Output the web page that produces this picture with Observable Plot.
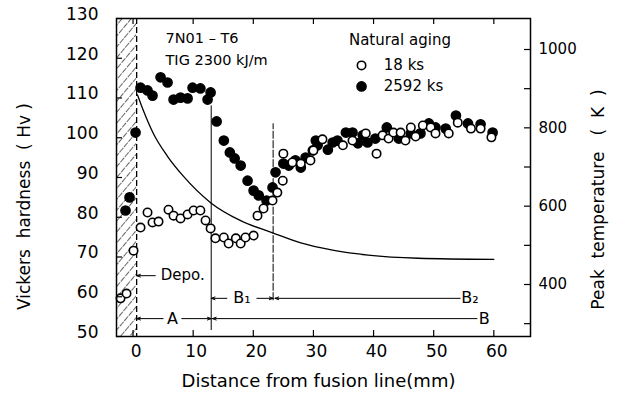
<!DOCTYPE html>
<html><head><meta charset="utf-8">
<script src="https://cdn.jsdelivr.net/npm/d3@7"></script>
<script src="https://cdn.jsdelivr.net/npm/@observablehq/plot@0.6"></script>
<style>
html,body{margin:0;padding:0;background:#fff;}
#chart svg{display:block;}
</style>
</head><body><div id="chart"></div>
<script>
// ---- data ----
const xTicks = [0, 10, 20, 30, 40, 50, 60];
const yTicks = [50, 60, 70, 80, 90, 100, 110, 120, 130];
const tempMajor = [400, 600, 800, 1000];
const tempMinor = [300, 500, 700, 900];

// Natural aging 2592 ks (filled)
const aged2592X = [-1.25,-0.58,0.42,1.25,2.41,3.24,4.58,5.74,6.74,7.9,9.07,9.9,11.2,12.4,12.9,13.9,15.1,16.1,16.9,17.9,19.05,20.05,20.9,22.2,23.2,23.7,25.0,25.9,27.0,27.9,28.7,29.9,30.4,30.7,32.4,33.2,34.0,35.4,36.5,37.4,38.2,39.0,40.3,42.2,44.2,46.2,47.8,49.2,50.3,52.0,53.7,55.7,57.8,59.8];
const aged2592Hv = [81.7,85.0,101.3,112.6,111.9,110.6,115.2,113.9,109.6,110.1,109.9,112.6,112.4,109.6,111.4,104.1,99.3,96.3,94.8,93.0,89.2,86.7,85.5,84.2,87.5,91.3,93.5,93.0,94.3,92.5,95.0,96.8,99.3,98.1,97.0,98.8,99.3,101.3,101.3,98.6,100.6,98.8,99.8,102.6,99.8,101.1,101.1,103.6,102.6,102.3,105.6,103.6,103.4,101.3];

// Natural aging 18 ks (open)
const aged18X = [-2.08,-1.08,0.08,1.25,2.41,3.24,4.24,5.9,6.74,7.9,9.07,10.07,11.2,12.06,12.9,13.7,15.1,15.9,17.1,17.9,18.7,20.05,20.7,21.7,23.2,24.0,24.9,25.0,26.5,27.9,29.5,30.0,31.5,34.9,36.5,38.7,40.5,41.5,42.5,43.3,44.5,45.3,46.2,47.0,48.2,49.5,50.3,52.5,54.0,56.2,57.8,59.6];
const aged18Hv = [59.6,60.8,71.6,77.4,81.2,78.7,78.9,81.9,80.4,79.7,80.7,81.7,81.7,79.2,77.2,74.7,74.9,73.4,74.7,73.4,74.9,75.4,80.4,82.2,84.2,86.2,89.2,96.0,93.8,93.5,94.3,96.8,99.6,98.1,99.3,101.1,96.0,100.6,99.8,101.3,101.3,99.3,102.6,100.3,103.1,102.6,101.1,101.1,103.8,102.3,102.3,100.1];

// Peak temperature curve (K)
const curveX = [0.75,1.75,3.4,5.7,8.4,12.9,17.9,23.2,27.9,33.4,39.1,47.4,60];
const curveT = [884,843,785,728,676,609,563,532,506,487,475,467,464];

// zone boundaries (mm): fusion line, A/B1, B1/B2
const zoneBounds = [0.6, 13, 23.3];

// ---- layout ----
const W = 619, H = 401, mL = 116, mR = 89, mT = 18, mB = 65;
const plotW = W - mL - mR, plotH = H - mT - mB;
const xDomain = [-2.75, 66.1];
const toHv = t => 63.08 + (t - 400) * (122.2 - 63.08) / 600;
const fromHv = h => 400 + (h - 63.08) * 600 / (122.2 - 63.08);
const font = "'DejaVu Sans', sans-serif";
const sp = "\u00a0";

const filled = aged2592X.map((x, i) => ({x, y: aged2592Hv[i]}));
const open = aged18X.map((x, i) => ({x, y: aged18Hv[i]}));
const curve = curveX.map((x, i) => ({x, y: toHv(curveT[i])}));
const [fx, bA, bB] = zoneBounds;

const arrowOpts = {stroke: "black", strokeWidth: 1, headLength: 6, headAngle: 40};

const chart = Plot.plot({
  width: W, height: H,
  marginLeft: mL, marginRight: mR, marginTop: mT, marginBottom: mB,
  style: {fontFamily: font, background: "white", color: "black"},
  x: {domain: xDomain},
  y: {domain: [50, 130]},
  marks: [
    Plot.rect([{}], {x1: xDomain[0], x2: fx, y1: 50, y2: 130, fill: "url(#hatch)"}),
    Plot.ruleX([fx], {stroke: "black", strokeWidth: 1.3, strokeDasharray: "6,3"}),
    Plot.ruleX([bA], {y1: 51.5, y2: 108, stroke: "black", strokeWidth: 1}),
    Plot.ruleX([bB], {y1: 59, y2: 103.5, stroke: "black", strokeWidth: 1, strokeDasharray: "8,1.5"}),
    Plot.line(curve, {x: "x", y: "y", curve: "monotone-x", stroke: "black", strokeWidth: 1.3}),

    // region annotations
    Plot.arrow([{}], {x1: 3.7, x2: fx, y1: 65.3, y2: 65.3, ...arrowOpts}),
    Plot.text(["Depo."], {x: 4.6, y: 65.3, textAnchor: "start", fontSize: 15}),
    Plot.arrow([{}], {x1: 5.0, x2: fx, y1: 54.5, y2: 54.5, ...arrowOpts}),
    Plot.arrow([{}], {x1: 8.1, x2: bA, y1: 54.5, y2: 54.5, ...arrowOpts}),
    Plot.text(["A"], {x: 6.55, y: 54.5, fontSize: 16}),
    Plot.arrow([{}], {x1: 15.6, x2: bA, y1: 59.6, y2: 59.6, ...arrowOpts}),
    Plot.arrow([{}], {x1: 20.6, x2: bB, y1: 59.6, y2: 59.6, ...arrowOpts}),
    Plot.text(["B\u2081"], {x: 18.1, y: 59.6, fontSize: 16}),
    Plot.arrow([{}], {x1: 54.4, x2: bB + 0.3, y1: 59.6, y2: 59.6, ...arrowOpts}),
    Plot.text(["B\u2082"], {x: 54.6, y: 59.6, textAnchor: "start", fontSize: 16}),
    Plot.arrow([{}], {x1: 57.2, x2: bA + 0.2, y1: 54.5, y2: 54.5, ...arrowOpts}),
    Plot.text(["B"], {x: 57.5, y: 54.5, textAnchor: "start", fontSize: 16}),

    // data
    Plot.dot(filled, {x: "x", y: "y", r: 4.6, fill: "black", stroke: "black"}),
    Plot.dot(open, {x: "x", y: "y", r: 4.2, fill: "white", stroke: "black", strokeWidth: 1.6}),

    // texts
    Plot.text(["7N01 \u2013 T6"], {x: 5.4, y: 125, textAnchor: "start", fontSize: 14.5}),
    Plot.text(["TIG 2300 kJ/m"], {x: 5.4, y: 119.4, textAnchor: "start", fontSize: 14.5}),
    Plot.text(["Natural aging"], {x: 35.9, y: 124.5, textAnchor: "start", fontSize: 15}),
    Plot.dot([{}], {x: 38.0, y: 118.2, r: 4.2, fill: "white", stroke: "black", strokeWidth: 1.6}),
    Plot.text(["18 ks"], {x: 41.7, y: 118.2, textAnchor: "start", fontSize: 15}),
    Plot.dot([{}], {x: 38.0, y: 112.9, r: 4.6, fill: "black", stroke: "black"}),
    Plot.text(["2592 ks"], {x: 41.7, y: 112.9, textAnchor: "start", fontSize: 15}),

    // ticks (inward)
    Plot.tickY(yTicks, {y: d => d, insetRight: plotW - 6, stroke: "black", strokeWidth: 1.2}),
    Plot.tickY([...tempMajor, ...tempMinor].map(toHv), {y: d => d, insetLeft: plotW - 6, stroke: "black", strokeWidth: 1.2}),
    Plot.tickX(xTicks, {x: d => d, insetTop: plotH - 6, stroke: "black", strokeWidth: 1.2}),
    Plot.tickX(xTicks, {x: d => d, insetBottom: plotH - 6, stroke: "black", strokeWidth: 1.2}),

    // axes labels
    Plot.axisY(yTicks, {anchor: "left", tickSize: 0, tickPadding: 18, fontSize: 17, dy: -4, label: null, style: {letterSpacing: "1.5px"}}),
    Plot.axisY(tempMajor.map(toHv), {anchor: "right", tickSize: 0, tickPadding: 8, fontSize: 15, label: null,
      tickFormat: d => String(Math.round(fromHv(d) / 100) * 100)}),
    Plot.axisX(xTicks, {anchor: "bottom", tickSize: 0, tickPadding: 8, fontSize: 17, dx: 3, label: null}),

    Plot.frame({stroke: "black", strokeWidth: 1.5}),

    // axis titles
    Plot.text(["Distance from fusion line(mm)"], {frameAnchor: "bottom", textAnchor: "middle", dx: -5, dy: 50, fontSize: 18, style: {letterSpacing: "1.4px"}}),
    Plot.text([`Vickers${sp}${sp}hardness${sp}${sp}(${sp}Hv${sp})`], {frameAnchor: "left", textAnchor: "middle", rotate: -90, dx: -92, dy: 29, fontSize: 17, style: {letterSpacing: "2.6px"}}),
    Plot.text([`Peak${sp}${sp}temperature${sp}${sp}${sp}(${sp}${sp}K${sp}${sp})`], {frameAnchor: "right", textAnchor: "middle", rotate: -90, dx: 68, dy: 22, fontSize: 17, style: {letterSpacing: "2.4px"}})
  ]
});

const ns = "http://www.w3.org/2000/svg";
const defs = document.createElementNS(ns, "defs");
defs.innerHTML = '<pattern id="hatch" width="7" height="7" patternUnits="userSpaceOnUse" patternTransform="rotate(40)"><line x1="0" y1="0" x2="0" y2="7" stroke="black" stroke-width="1.2" stroke-dasharray="5,1"/></pattern>';
chart.insertBefore(defs, chart.firstChild);
document.getElementById("chart").appendChild(chart);
</script></body></html>
